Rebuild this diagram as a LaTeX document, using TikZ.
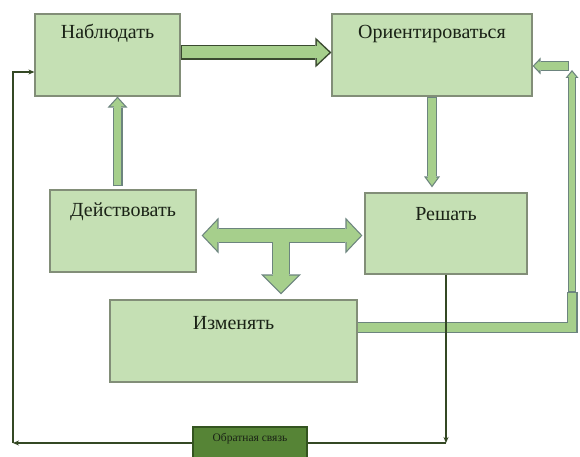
\documentclass[tikz,border=0pt]{standalone}
\usepackage{fontspec}
\setmainfont{Liberation Serif}
\usetikzlibrary{arrows.meta,calc}
\definecolor{boxfill}{RGB}{197,224,180}
\definecolor{boxedge}{RGB}{130,142,120}
\definecolor{arrfill}{RGB}{166,207,140}
\definecolor{arredge}{RGB}{108,132,126}
\definecolor{mainedge}{RGB}{58,74,48}
\definecolor{fbline}{RGB}{52,72,36}
\definecolor{fbfill}{RGB}{86,132,54}
\definecolor{fbedge}{RGB}{52,84,32}
\definecolor{txt}{RGB}{26,34,22}
\begin{document}
\begin{tikzpicture}[x=1pt,y=-1pt,
        box/.style ={draw=boxedge, fill=boxfill, line width=1.2pt, inner sep=0pt,
                     font=\fontsize{20}{22}\selectfont, text=txt},
        fbbox/.style={draw=fbedge, fill=fbfill, line width=1.2pt, inner sep=0pt,
                     font=\fontsize{11.5}{13}\selectfont, text=txt},
        fb/.style  ={draw=fbline, line width=1.3pt},
        tip/.style ={-{Stealth[length=6pt,width=5pt]}},
% Blockpfeile: aussen Rand, innen Fuellung
        mainout/.style={draw=mainedge, line width=15pt, -{Triangle[length=16pt,width=30pt,line width=0pt]}},
        mainin/.style ={draw=arrfill, line width=12pt, shorten <=1.5pt, shorten >=2.2pt,
                        -{Triangle[length=12.3pt,width=23.1pt,line width=0pt]}},
        upout/.style  ={draw=arredge, line width=10pt, -{Triangle[length=11pt,width=20pt,line width=0pt]}},
        upin/.style   ={draw=arrfill, line width=7.6pt, shorten <=1.2pt, shorten >=1.8pt,
                        -{Triangle[length=8pt,width=14.5pt,line width=0pt]}},
        dnout/.style  ={draw=arredge, line width=10pt, -{Triangle[length=11pt,width=16pt,line width=0pt]}},
        dnin/.style   ={draw=arrfill, line width=7.6pt, shorten <=1.2pt, shorten >=2pt,
                        -{Triangle[length=7.8pt,width=11.3pt,line width=0pt]}},
        tout/.style   ={draw=arredge, line width=15pt, {Triangle[length=17pt,width=36pt,line width=0pt]}-{Triangle[length=17pt,width=36pt,line width=0pt]}},
        tin/.style    ={draw=arrfill, line width=12.6pt, shorten <=1.65pt, shorten >=1.65pt,
                        {Triangle[length=14.2pt,width=30pt,line width=0pt]}-{Triangle[length=14.2pt,width=30pt,line width=0pt]}},
        sout/.style   ={draw=arredge, line width=18pt, -{Triangle[length=20pt,width=40pt,line width=0pt]}},
        sin/.style    ={draw=arrfill, line width=15.6pt, shorten >=1.7pt,
                        -{Triangle[length=17.1pt,width=34.2pt,line width=0pt]}},
        band/.style   ={draw=arredge, line width=11pt,
                        postaction={draw=arrfill, line width=8.6pt, shorten >=1.2pt}},
        riser/.style  ={draw=arredge, line width=8pt, -{Triangle[length=8pt,width=13pt,line width=0pt]},
                        postaction={draw=arrfill, line width=5.6pt, shorten <=1.2pt, shorten >=1.9pt,
                        -{Triangle[length=4.9pt,width=8pt,line width=0pt]}}},
        leftar/.style ={draw=arredge, line width=10pt, -{Triangle[length=8pt,width=17pt,line width=0pt]},
                        postaction={draw=arrfill, line width=7.6pt, shorten <=1.2pt, shorten >=1.65pt,
                        -{Triangle[length=5.2pt,width=10.9pt,line width=0pt]}}}]
        \useasboundingbox (0,0) rectangle (580,457);
% Bloecke
        \node[box, minimum width=145pt, text height=25pt, text depth=57pt] (nab) at (107.5,55)  {Наблюдать};
        \node[box, minimum width=200pt, text height=25pt, text depth=57pt] (ori) at (432,55)    {Ориентироваться};
        \node[box, minimum width=146pt, text height=26pt, text depth=56pt] (dej) at (123,231)   {Действовать};
        \node[box, minimum width=162pt, text height=27pt, text depth=54pt] (res) at (446,233.5) {Решать};
        \node[box, minimum width=247pt, text height=29pt, text depth=53pt] (izm) at (233.5,341) {Изменять};
        \node[fbbox, minimum width=114pt, text height=14pt, text depth=18pt] (fbk) at (250,443) {Обратная связь};
% Hilfspunkte
        \coordinate (tj) at (281,235.5);
        \coordinate (rb) at (572,292);
        \coordinate (rt) at (572,70);
        \coordinate (lt) at (569,66);
        \coordinate (lc) at (13,443);
        \coordinate (rc) at (res.south |- fbk);
% Blockpfeile
        \draw[mainout] ($(nab.east)+(0,-2.5)$) -- ($(ori.west)+(0,-2.5)$);
        \draw[mainin]  ($(nab.east)+(0,-2.5)$) -- ($(ori.west)+(0,-2.5)$);
        \draw[upout] ($(dej.north)+(-5.5,-3)$) -- ($(dej.north |- nab.south)+(-5.5,0)$);
        \draw[upin]  ($(dej.north)+(-5.5,-3)$) -- ($(dej.north |- nab.south)+(-5.5,0)$);
        \draw[dnout] (ori.south) -- ($(ori.south |- res.north)+(0,-5)$);
        \draw[dnin]  (ori.south) -- ($(ori.south |- res.north)+(0,-5)$);
        \draw[tout] ($(dej.east |- tj)+(5,0)$) -- ($(res.west |- tj)+(-2,0)$);
        \draw[sout] (tj) -- ($(izm.north -| tj)+(0,-5)$);
        \draw[tin]  ($(dej.east |- tj)+(5,0)$) -- ($(res.west |- tj)+(-2,0)$);
        \draw[sin]  (tj) -- ($(izm.north -| tj)+(0,-5)$);
        \draw[band]   ($(izm.east)+(0,-13.5)$) -| (rb);
        \draw[riser]  (rb) -- (rt);
        \draw[leftar] (lt) -- (lt -| ori.east);
% Rueckkopplung
        \draw[fb,tip] (res.south) -- (rc);
        \draw[fb]     (rc) -- (fbk.east);
        \draw[fb,tip] (fbk.west) -- (lc);
        \draw[fb,tip] (lc) |- ($(nab.west)+(0,17)$);
\end{tikzpicture}
\end{document}
